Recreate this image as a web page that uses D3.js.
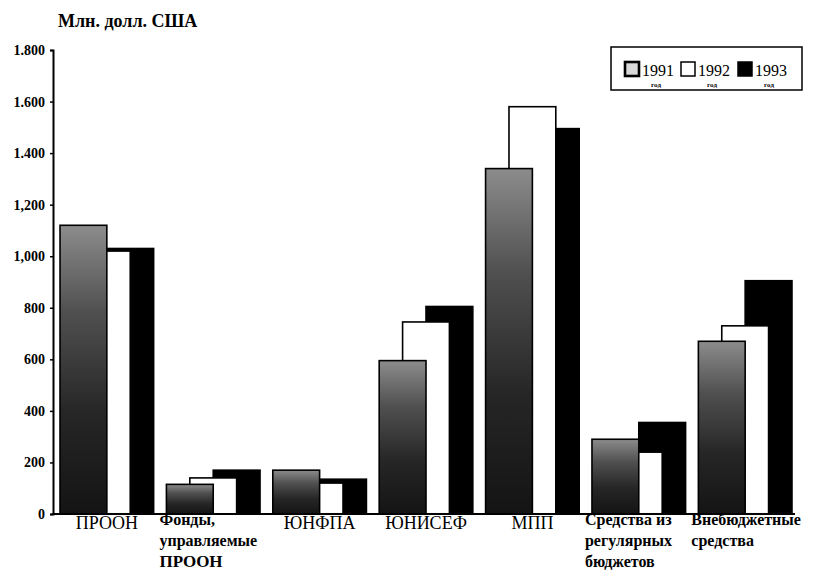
<!DOCTYPE html>
<html>
<head>
<meta charset="utf-8">
<script src="https://cdn.jsdelivr.net/npm/d3@7"></script>
<style>
  html, body { margin: 0; padding: 0; background: #fff; }
  svg { display: block; }
  text { font-family: "Liberation Serif", "DejaVu Serif", "Times New Roman", serif; fill: #000; }
</style>
</head>
<body>
<div id="chart"></div>
<script>
// ---- data ----
const categories = ["ПРООН", "Фонды, управляемые ПРООН", "ЮНФПА", "ЮНИСЕФ", "МПП", "Средства из регулярных бюджетов", "Внебюджетные средства"];
const categoryLines = [["ПРООН"], ["Фонды,", "управляемые", "ПРООН"], ["ЮНФПА"], ["ЮНИСЕФ"], ["МПП"], ["Средства из", "регулярных", "бюджетов"], ["Внебюджетные", "средства"]];
const years = ["1991", "1992", "1993"];
const values1991 = [1120, 115, 170, 595, 1340, 290, 670];
const values1992 = [1020, 140, 120, 745, 1580, 240, 730];
const values1993 = [1030, 170, 135, 805, 1495, 355, 905];
const yTicks = [0, 200, 400, 600, 800, 1000, 1200, 1400, 1600, 1800];
const yTickLabels = ["0", "200", "400", "600", "800", "1,000", "1,200", "1.400", "1.600", "1.800"];
const yTitle = "Млн. долл. США";
const legendSub = "год";

const seriesValues = { "1991": values1991, "1992": values1992, "1993": values1993 };

// ---- layout ----
const FONT = "'Liberation Serif', 'DejaVu Serif', 'Times New Roman', serif";
const W = 826, H = 576;
const svg = d3.select("#chart").append("svg").attr("width", W).attr("height", H)
  .style("font-family", FONT);

const defs = svg.append("defs");
const grad = defs.append("linearGradient").attr("id", "g1991")
  .attr("x1", 0).attr("y1", 0).attr("x2", 0).attr("y2", 1);
grad.append("stop").attr("offset", "0%").attr("stop-color", "#8c8c8c");
grad.append("stop").attr("offset", "30%").attr("stop-color", "#505050");
grad.append("stop").attr("offset", "65%").attr("stop-color", "#262626");
grad.append("stop").attr("offset", "100%").attr("stop-color", "#141414");

const fills = { "1991": "url(#g1991)", "1992": "#ffffff", "1993": "#000000" };

const x = d3.scaleBand().domain(categories).range([53, 799]).paddingInner(0.12).paddingOuter(0.066);
const bw = x.bandwidth();
const barW = bw / 2;
const xs = d3.scalePoint().domain(years).range([0, bw - barW]);
const y = d3.scaleLinear().domain([0, 1800]).range([514, 50]);

// bars: back to front (1993, 1992, 1991)
const drawOrder = years.slice().reverse();
drawOrder.forEach(yr => {
  svg.append("g").selectAll("rect")
    .data(categories.map((c, i) => ({ c, v: seriesValues[yr][i] })))
    .join("rect")
    .attr("x", d => x(d.c) + xs(yr))
    .attr("y", d => y(d.v))
    .attr("width", barW)
    .attr("height", d => y(0) - y(d.v))
    .attr("fill", fills[yr])
    .attr("stroke", "#000")
    .attr("stroke-width", 1.6);
});

// y axis
const yAxis = d3.axisLeft(y).tickValues(yTicks).tickSize(3)
  .tickFormat((d, i) => yTickLabels[i]);
const gy = svg.append("g").attr("transform", "translate(53,0)").call(yAxis)
  .attr("font-family", FONT);
gy.select(".domain").attr("stroke", "#000").attr("stroke-width", 2);
gy.selectAll(".tick line").attr("stroke", "#000").attr("stroke-width", 1.5);
gy.selectAll(".tick text")
  .attr("x", -8)
  .style("font-family", FONT)
  .style("font-size", "14px").style("font-weight", "bold").attr("fill", "#000");

// baseline
svg.append("line").attr("x1", 52).attr("x2", x.range()[1] - 4)
  .attr("y1", y(0)).attr("y2", y(0)).attr("stroke", "#000").attr("stroke-width", 2.2);

// category labels
categories.forEach((c, i) => {
  const lines = categoryLines[i];
  if (lines.length === 1) {
    svg.append("text").attr("x", x(c) + bw / 2).attr("y", 529)
      .attr("text-anchor", "middle").style("font-size", "18px").text(lines[0]);
  } else {
    lines.forEach((ln, j) => {
      const last = (j === lines.length - 1 && ln === "ПРООН");
      svg.append("text").attr("x", x(c) - 7).attr("y", 525 + j * 21)
        .style("font-size", last ? "17px" : "16px")
        .style("font-weight", "bold").text(ln);
    });
  }
});

// y title
svg.append("text").attr("x", 58).attr("y", 27).style("font-size", "18px")
  .style("font-weight", "bold").text(yTitle);

// legend
const lg = svg.append("g");
lg.append("rect").attr("x", 611).attr("y", 47).attr("width", 191).attr("height", 43)
  .attr("fill", "#fff").attr("stroke", "#000").attr("stroke-width", 1.5);
const legX = [625, 681, 738];
const legendFills = { "1991": "#d8d8d8", "1992": "#ffffff", "1993": "#000000" };
years.forEach((yr, i) => {
  lg.append("rect").attr("x", legX[i]).attr("y", 62).attr("width", 14).attr("height", 14)
    .attr("fill", legendFills[yr]).attr("stroke", "#000").attr("stroke-width", i === 0 ? 2.6 : 1.5);
  lg.append("text").attr("x", legX[i] + 17).attr("y", 76).style("font-size", "16px").text(yr);
  lg.append("text").attr("x", legX[i] + 31).attr("y", 87).attr("text-anchor", "middle")
    .style("font-size", "7px").style("font-weight", "bold").text(legendSub);
});
</script>
</body>
</html>
